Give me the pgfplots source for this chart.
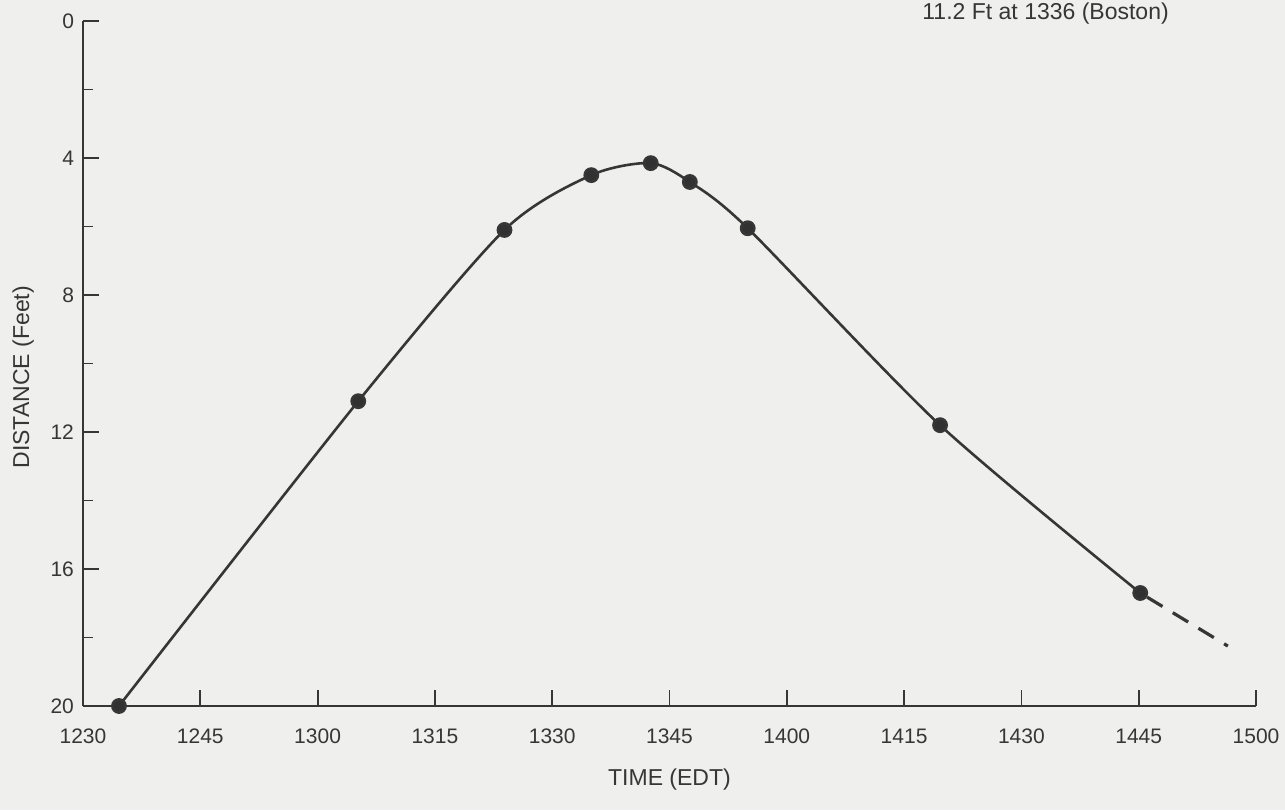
\documentclass[border=0pt]{standalone}
\usepackage{pgfplots}
\pgfplotsset{compat=1.18}
\usepackage{fontspec}
\setmainfont{Liberation Sans}
\definecolor{ink}{HTML}{363636}
\definecolor{paper}{HTML}{EFEFED}
\begin{document}
\begin{tikzpicture}
\useasboundingbox (-41.5pt,-52pt) rectangle (601pt,353pt);
\fill[paper] (-41.5pt,-52pt) rectangle (601pt,353pt);
\begin{axis}[name=ax, at={(0,0)}, anchor=south west,
  scale only axis, width=586.5pt, height=342.5pt,
  xmin=0, xmax=150, ymin=0, ymax=20, y dir=reverse,
  axis lines=left, axis line style={ink, line width=1pt, -},
  xtick={0,15,...,150},
  xticklabels={1230,1245,1300,1315,1330,1345,1400,1415,1430,1445,1500},
  ytick={0,4,...,20}, minor ytick={2,6,...,18},
  tick align=inside, major tick length=8pt, minor tick length=5pt,
  tick style={ink, line width=0.9pt},
  /pgf/number format/assume math mode=true,
  xticklabel style={font=\fontsize{10.5}{12}\selectfont, text=ink, yshift=-8pt},
  yticklabel style={font=\fontsize{10.5}{12}\selectfont, text=ink, xshift=-1pt},
  xlabel={TIME (EDT)}, ylabel={DISTANCE (Feet)},
  xlabel style={font=\fontsize{11.5}{13}\selectfont, text=ink, at={(axis description cs:0.5,0)}, anchor=center, yshift=-37pt},
  ylabel style={font=\fontsize{11.5}{13}\selectfont, text=ink, at={(axis description cs:-0.051,0.48)}, anchor=center},
  clip=false,
]
\addplot[ink, line width=1.3pt, smooth, tension=0.45, mark=*, mark size=3.3pt, mark options={fill=ink!90!black, draw=ink}]
  coordinates {(4.6,20) (35.2,11.1) (53.9,6.1) (65.0,4.5) (72.6,4.15) (77.6,4.7) (85.0,6.05) (109.6,11.8) (135.2,16.7)};
\addplot[ink, line width=1.6pt, dash pattern=on 9pt off 6pt, dash phase=-4pt]
  coordinates {(135.2,16.7) (146.4,18.25)};
\end{axis}
\node[anchor=north west, inner sep=0pt, text=ink, font=\fontsize{11.5}{13}\selectfont] at (419.5pt,352pt) {11.2 Ft at 1336 (Boston)};
\end{tikzpicture}
\end{document}
